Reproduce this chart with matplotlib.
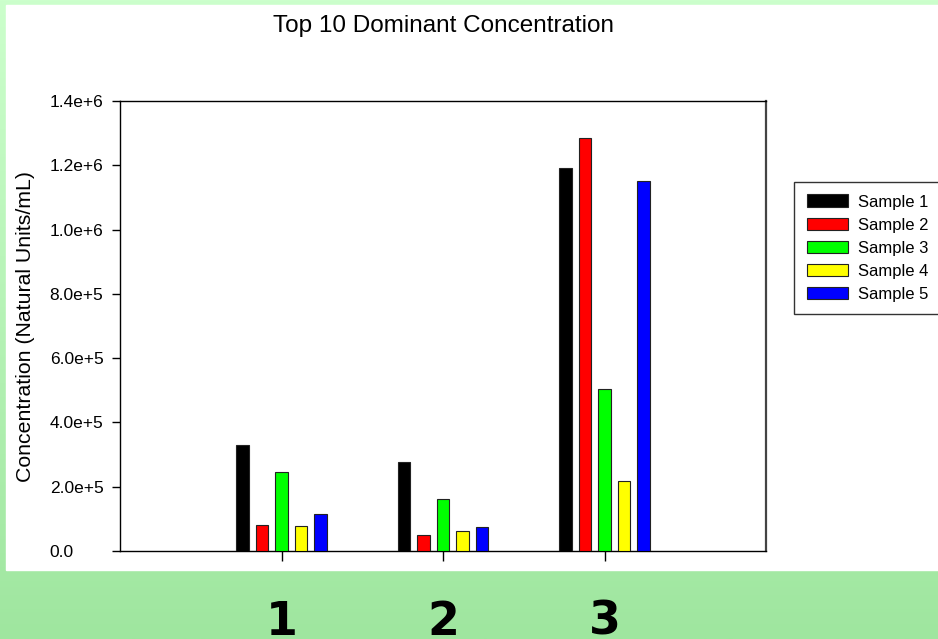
import numpy as np
import matplotlib
matplotlib.use("Agg")
import matplotlib.pyplot as plt
from matplotlib.colors import LinearSegmentedColormap
from matplotlib.patches import Rectangle

plt.rcParams['font.family'] = ['Liberation Sans', 'DejaVu Sans']

categories = ["1", "2", "3"]
series_names = ["Sample 1", "Sample 2", "Sample 3", "Sample 4", "Sample 5"]
sample1 = [3.30e5, 2.78e5, 1.190e6]
sample2 = [8.0e4, 4.9e4, 1.284e6]
sample3 = [2.46e5, 1.61e5, 5.03e5]
sample4 = [7.7e4, 6.2e4, 2.18e5]
sample5 = [1.16e5, 7.5e4, 1.152e6]
series = [sample1, sample2, sample3, sample4, sample5]
colors = ["#000000", "#ff0000", "#00ff00", "#ffff00", "#0000ff"]
ytick_values = [0, 2e5, 4e5, 6e5, 8e5, 1.0e6, 1.2e6, 1.4e6]
ytick_labels = ["0.0", "2.0e+5", "4.0e+5", "6.0e+5", "8.0e+5", "1.0e+6", "1.2e+6", "1.4e+6"]

W, H = 938, 639
fig = plt.figure(figsize=(W / 100, H / 100), dpi=100)

# gradient background
bg = fig.add_axes([0, 0, 1, 1], zorder=-10)
cmap = LinearSegmentedColormap.from_list("g", ["#ccffcc", "#9fe69f"])
grad = np.linspace(0, 1, 256).reshape(-1, 1)
bg.imshow(grad, aspect="auto", cmap=cmap, extent=[0, 1, 0, 1], origin="upper")
bg.add_patch(Rectangle((6 / W, 1 - 570 / H), 1, (570 - 5) / H, color="white", zorder=2))
bg.set_xlim(0, 1)
bg.set_ylim(0, 1)
bg.axis("off")

ax = fig.add_axes([120 / W, 1 - 551 / H, (766 - 120) / W, (551 - 101) / H])
ax.set_facecolor("white")

x = np.arange(1, len(categories) + 1)
spacing = 0.121
width = 0.078
for i, (vals, col, name) in enumerate(zip(series, colors, series_names)):
    ax.bar(x + (i - 2) * spacing, vals, width=width, color=col, edgecolor="#222222",
           linewidth=0.8, label=name, zorder=3)

ax.set_xlim(0, 4)
ax.set_ylim(0, 1.4e6)
ax.set_yticks(ytick_values)
ax.set_yticklabels(ytick_labels, fontsize=12.5, ha="left")
ax.set_xticks(x)
ax.set_xticklabels(categories, fontsize=33, fontweight="bold", family="DejaVu Sans")
ax.tick_params(axis="x", direction="out", length=7, width=1, pad=28)
ax.tick_params(axis="y", direction="out", length=6, width=1, pad=44.6)
for s in ax.spines.values():
    s.set_linewidth(1.0)
    s.set_color("black")
ax.spines["right"].set_color("#444444")
ax.spines["right"].set_linewidth(1.6)

ax.set_ylabel("Concentration (Natural Units/mL)", fontsize=15.3)
ax.yaxis.set_label_coords((35 - 120) / 646, 0.5)
fig.text(443 / W, 1 - 32 / H, "Top 10 Dominant Concentration", ha="center", va="baseline", fontsize=17.5)

leg = fig.legend(loc="upper left", bbox_to_anchor=(794 / W, 1 - 182 / H), fontsize=12,
                 frameon=True, fancybox=False, edgecolor="black", handlelength=2.46,
                 handleheight=0.78, handletextpad=0.6, labelspacing=0.48,
                 borderpad=0.75, borderaxespad=0)
leg.get_frame().set_linewidth(1.0)

fig.savefig("out.png", dpi=100)
